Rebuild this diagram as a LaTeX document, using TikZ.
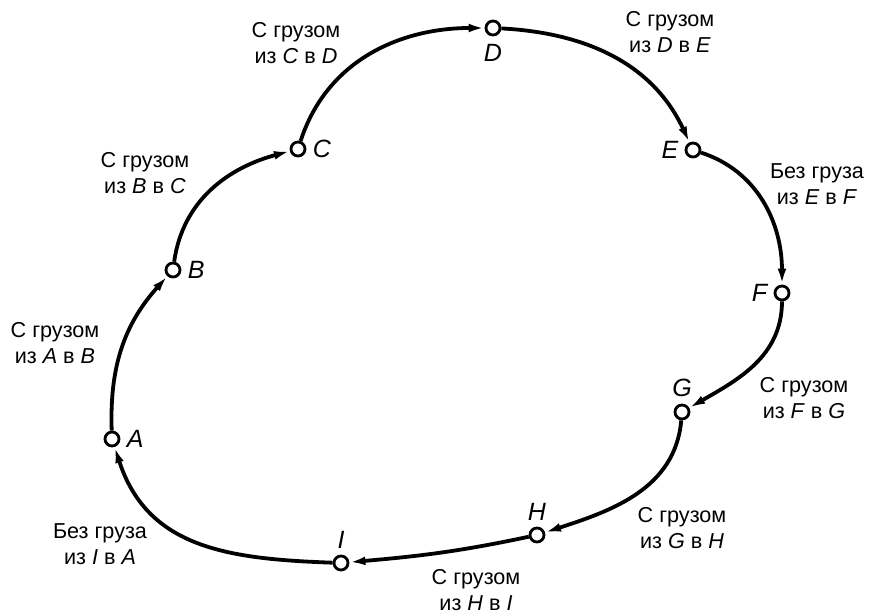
\documentclass[tikz,border=0pt]{standalone}
\usepackage{fontspec}
\setmainfont{Liberation Sans}
\usetikzlibrary{arrows.meta, positioning}
\tikzset{
	stopPoint/.style={
		circle,
		draw=black,
		line width=1.4pt,
		fill=white,
		inner sep=0pt,
		minimum size=7pt
	},
	stopName/.style={
		inner sep=0pt,
		font=\fontsize{12.5}{13}\selectfont\itshape
	},
	routeText/.style={
		align=center,
		inner sep=0pt,
		font=\fontsize{10.8}{13}\selectfont
	},
	route/.style={
		draw=black,
		line width=1.9pt,
		-{Latex[length=8pt, width=4.4pt]}
	},
}

\begin{document}
\begin{tikzpicture}[x=0.5pt, y=0.5pt]
	\useasboundingbox (0,0) rectangle (869,614);

	% stops
	\node [stopPoint] (a) at (112,175) {};
	\node [stopPoint] (b) at (173,344) {};
	\node [stopPoint] (c) at (298,465) {};
	\node [stopPoint] (d) at (493,586) {};
	\node [stopPoint] (e) at (693,464) {};
	\node [stopPoint] (f) at (782,321) {};
	\node [stopPoint] (g) at (682,202) {};
	\node [stopPoint] (h) at (537,79) {};
	\node [stopPoint] (i) at (341,51) {};

	% stop names
	\node [stopName, right=3pt of a] (aName) {A};
	\node [stopName, right=3pt of b] (bName) {B};
	\node [stopName, right=3pt of c] (cName) {C};
	\node [stopName, below=4pt of d] (dName) {D};
	\node [stopName, left=3pt of e] (eName) {E};
	\node [stopName, left=3pt of f] (fName) {F};
	\node [stopName, above=3pt of g] (gName) {G};
	\node [stopName, above=3pt of h] (hName) {H};
	\node [stopName, above=3pt of i] (iName) {I};

	% route descriptions
	\node [routeText] (abText) at (55,271) {С грузом\\из \textit{A} в \textit{B}};
	\node [routeText] (bcText) at (145,441) {С грузом\\из \textit{B} в \textit{C}};
	\node [routeText] (cdText) at (296,571) {С грузом\\из \textit{C} в \textit{D}};
	\node [routeText] (deText) at (670,582) {С грузом\\из \textit{D} в \textit{E}};
	\node [routeText] (efText) at (817,430) {Без груза\\из \textit{E} в \textit{F}};
	\node [routeText] (fgText) at (804,216) {С грузом\\из \textit{F} в \textit{G}};
	\node [routeText] (ghText) at (682,86) {С грузом\\из \textit{G} в \textit{H}};
	\node [routeText] (hiText) at (476,24) {С грузом\\из \textit{H} в \textit{I}};
	\node [routeText] (iaText) at (100,70) {Без груза\\из \textit{I} в \textit{A}};

	% routes between stops
	\draw [route] (a) to [out=92, in=228] (b);
	\draw [route] (b) to [out=82, in=195] (c);
	\draw [route] (c) to [out=72, in=180] (d);
	\draw [route] (d) to [out=-3, in=115] (e);
	\draw [route] (e) to [out=-18, in=90] (f);
	\draw [route] (f) to [out=-90, in=30] (g);
	\draw [route] (g) to [out=-95, in=18] (h);
	\draw [route] (h) to [out=192, in=5] (i);
	\draw [route] (i) to [out=178, in=-72, looseness=1.1] (a);
\end{tikzpicture}
\end{document}
